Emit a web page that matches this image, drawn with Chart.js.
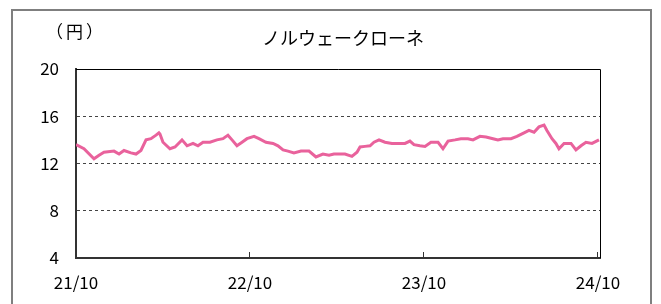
<!DOCTYPE html>
<html>
<head>
<meta charset="utf-8">
<script src="https://cdn.jsdelivr.net/npm/chart.js@4/dist/chart.umd.min.js"></script>
<style>
  body { margin: 0; background: #fff; }
  #wrap { position: relative; width: 661px; height: 304px; overflow: hidden; }
  #frame { position: absolute; left: 11px; top: 9px; width: 641px; height: 310px;
           border: 2px solid #7f7f7f; border-bottom: none; box-sizing: border-box; }
  #unit { position: absolute; left: 46px; top: 18px; font: 17px "Noto Sans CJK JP", sans-serif; color: #000;
          letter-spacing: 3px; }
  #title { position: absolute; left: 243px; width: 200px; top: 24px; text-align: center;
           font: 18px "Noto Sans CJK JP", sans-serif; color: #000; }
  canvas { position: absolute; left: 0; top: 0; }
</style>
</head>
<body>
<div id="wrap">
  <div id="frame"></div>
  <canvas id="myChart" width="661" height="304"></canvas>
  <div id="unit">（円）</div>
  <div id="title">ノルウェークローネ</div>
</div>
<script>
// months since 21/10
const months = [0, 0.55, 1.24, 1.59, 1.93, 2.62, 2.97, 3.31, 3.79, 4.14, 4.48, 4.83, 5.17, 5.52, 5.72, 5.79,
  6.0, 6.48, 6.83, 7.31, 7.66, 8.07, 8.41, 8.76, 9.24, 9.72, 10.14, 10.48, 10.76, 11.1, 11.45, 11.79,
  12.28, 12.62, 13.1, 13.59, 13.93, 14.28, 14.62, 15.03, 15.52, 16.07, 16.55, 17.03, 17.45, 17.79,
  18.14, 18.55, 19.03, 19.38, 19.59, 19.93, 20.28, 20.55, 20.9, 21.31, 21.79, 22.28, 22.69, 23.03,
  23.31, 23.72, 24.07, 24.48, 24.97, 25.31, 25.66, 26.14, 26.55, 27.03, 27.38, 27.86, 28.28, 28.76,
  29.1, 29.45, 30.0, 30.41, 30.9, 31.24, 31.59, 31.93, 32.28, 32.48, 32.83, 33.1, 33.31, 33.66,
  34.14, 34.48, 34.83, 35.17, 35.59, 36.07];
// NOK/JPY
const rates = [13.6, 13.25, 12.4, 12.7, 12.96, 13.05, 12.8, 13.1, 12.9, 12.8, 13.1, 14.0, 14.1, 14.4, 14.6, 14.5,
  13.8, 13.25, 13.4, 14.0, 13.5, 13.7, 13.5, 13.8, 13.8, 14.0, 14.1, 14.4, 14.0, 13.5, 13.8, 14.1,
  14.3, 14.1, 13.8, 13.7, 13.5, 13.15, 13.05, 12.9, 13.05, 13.05, 12.55, 12.8, 12.7, 12.8,
  12.8, 12.8, 12.6, 12.96, 13.4, 13.45, 13.5, 13.8, 14.0, 13.8, 13.7, 13.7, 13.7, 13.9,
  13.6, 13.5, 13.45, 13.8, 13.8, 13.25, 13.9, 14.0, 14.1, 14.1, 14.0, 14.3, 14.25, 14.1,
  14.0, 14.1, 14.1, 14.3, 14.6, 14.8, 14.65, 15.1, 15.25, 14.8, 14.1, 13.7, 13.25, 13.7,
  13.7, 13.15, 13.5, 13.8, 13.7, 14.0];
const xTickPos = [0, 12, 24, 36];
const xTickLabels = ['21/10', '22/10', '23/10', '24/10'];
const yTicks = [4, 8, 12, 16, 20];

const pts = months.map((m, i) => ({x: m, y: rates[i]}));

// top + right frame of the plot area
const plotFrame = {
  id: 'plotFrame',
  afterDraw(chart) {
    const a = chart.chartArea, c = chart.ctx;
    c.save();
    c.strokeStyle = '#000';
    c.lineWidth = 1;
    c.beginPath();
    c.moveTo(a.left, a.top + 0.5);
    c.lineTo(a.right + 0.5, a.top + 0.5);
    c.lineTo(a.right + 0.5, a.bottom);
    c.stroke();
    c.restore();
  }
};

const ctx = document.getElementById('myChart').getContext('2d');
new Chart(ctx, {
  type: 'line',
  data: {
    datasets: [{
      data: pts,
      borderColor: '#e9629c',
      borderWidth: 3,
      pointRadius: 0,
      tension: 0
    }]
  },
  options: {
    responsive: false,
    animation: false,
    layout: { padding: { left: 0, top: 69, right: 61, bottom: 0 } },
    plugins: { legend: { display: false }, tooltip: { enabled: false } },
    scales: {
      x: {
        type: 'linear',
        min: 0,
        max: 36.14,
        afterBuildTicks: s => { s.ticks = xTickPos.map(v => ({value: v})); },
        afterFit: s => { s.height = 46; },
        grid: { drawOnChartArea: false, drawTicks: true, tickLength: -6, color: '#333' },
        border: { color: '#333', width: 2 },
        ticks: {
          padding: 20,
          color: '#000',
          font: { family: '"Noto Sans CJK JP", sans-serif', size: 17 },
          maxRotation: 0,
          callback: (v) => xTickLabels[xTickPos.indexOf(v)] || ''
        }
      },
      y: {
        min: 4,
        max: 20,
        afterBuildTicks: s => { s.ticks = yTicks.map(v => ({value: v})); },
        afterFit: s => { s.width = 76; },
        grid: {
          drawTicks: false,
          color: ctx => (ctx.tick && (ctx.tick.value === 4 || ctx.tick.value === 20)) ? 'rgba(0,0,0,0)' : '#444',
          lineWidth: 1
        },
        border: { color: '#333', width: 2, dash: [3, 3] },
        ticks: {
          padding: 17,
          color: '#000',
          font: { family: '"Noto Sans CJK JP", sans-serif', size: 17 }
        }
      }
    }
  },
  plugins: [plotFrame]
});
</script>
</body>
</html>
